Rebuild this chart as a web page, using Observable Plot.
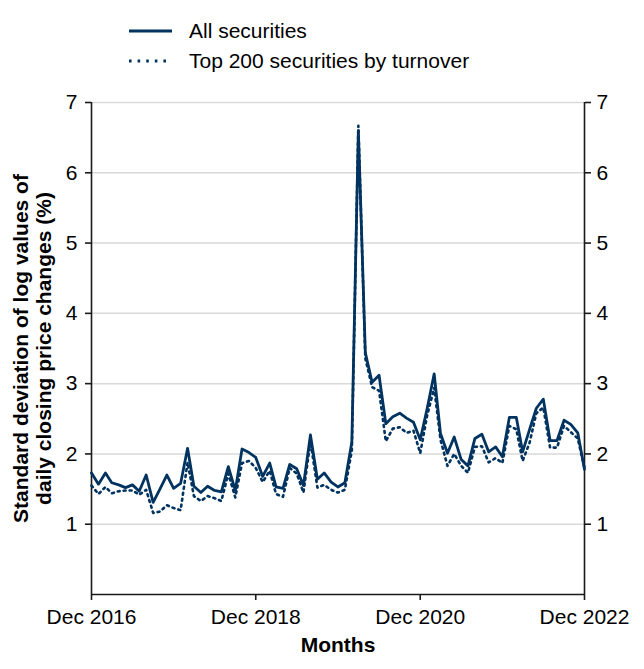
<!DOCTYPE html>
<html>
<head>
<meta charset="utf-8">
<script src="https://cdn.jsdelivr.net/npm/d3@7"></script>
<script src="https://cdn.jsdelivr.net/npm/@observablehq/plot@0.6"></script>
<style>
  html, body { margin: 0; padding: 0; background: #fff; }
  body { width: 644px; height: 669px; overflow: hidden; font-family: Arial, "Liberation Sans", sans-serif; }
  #legend svg, #chart svg { display: block; }
</style>
</head>
<body>
<div id="legend"></div>
<div id="chart"></div>
<script>
// ---- data ----
const months = d3.utcMonth.range(new Date(Date.UTC(2016, 11, 1)), new Date(Date.UTC(2023, 0, 1))); // Dec 2016 .. Dec 2022
const allSecurities = [
  1.73,1.57,1.73,1.59,1.56,1.52,1.56,1.47,1.70,1.31,1.50,1.70,
  1.51,1.58,2.08,1.54,1.45,1.54,1.48,1.46,1.82,1.48,2.07,2.02,
  1.95,1.68,1.87,1.53,1.51,1.85,1.79,1.55,2.27,1.64,1.73,1.60,
  1.53,1.59,2.17,6.60,3.44,3.02,3.12,2.43,2.53,2.58,2.51,2.45,
  2.20,2.65,3.14,2.29,2.01,2.24,1.92,1.83,2.22,2.28,2.03,2.10,
  1.96,2.52,2.52,2.03,2.35,2.65,2.78,2.19,2.19,2.48,2.42,2.30,
  1.78
];
const top200 = [
  1.55,1.43,1.53,1.44,1.47,1.48,1.48,1.42,1.49,1.16,1.18,1.27,
  1.23,1.20,1.88,1.40,1.33,1.40,1.37,1.33,1.72,1.38,1.87,1.90,
  1.80,1.60,1.76,1.43,1.39,1.80,1.72,1.45,2.18,1.52,1.56,1.49,
  1.45,1.49,2.05,6.67,3.36,2.95,2.90,2.18,2.36,2.38,2.30,2.33,
  2.01,2.55,2.94,2.20,1.83,2.00,1.83,1.73,2.10,2.11,1.88,1.94,
  1.87,2.40,2.35,1.90,2.16,2.58,2.66,2.09,2.09,2.40,2.31,2.22,
  1.80
];
const seriesNames = ["All securities", "Top 200 securities by turnover"];
const yTicks = [1, 2, 3, 4, 5, 6, 7];
const xTickLabels = ["Dec 2016", "Dec 2018", "Dec 2020", "Dec 2022"];
const yLabel = "Standard deviation of log values of\ndaily closing price changes (%)";
const xLabel = "Months";

// ---- build ----
const navy = "#00335f";
const axisColor = "#1a1a1a";
const FS = 21;
const parse = d3.utcParse("%b %Y");
const xTickDates = xTickLabels.map(parse);
const rows = months.map((m, i) => ({month: m, all: allSecurities[i], top: top200[i]}));
const x0 = months[0], x1 = months[months.length - 1];

// legend (SVG above the plot)
const lg = d3.select("#legend").append("svg").attr("width", 644).attr("height", 85);
const legendItems = [
  {name: seriesNames[0], y: 31, dash: null},
  {name: seriesNames[1], y: 61, dash: "2.6,6"}
];
legendItems.forEach(it => {
  lg.append("line").attr("x1", 129).attr("x2", 172).attr("y1", it.y).attr("y2", it.y)
    .attr("stroke", navy).attr("stroke-width", 2.8).attr("stroke-dasharray", it.dash);
  lg.append("text").attr("x", 189).attr("y", it.y).attr("dy", "0.35em")
    .attr("font-size", FS).attr("font-family", "Arial, 'Liberation Sans', sans-serif")
    .attr("fill", "#000").text(it.name);
});

const chart = Plot.plot({
  width: 644,
  height: 584,
  marginTop: 17,
  marginBottom: 75,
  marginLeft: 91,
  marginRight: 60,
  style: {fontFamily: "Arial, 'Liberation Sans', sans-serif", fontSize: FS + "px", color: "#000", background: "#fff", overflow: "visible"},
  x: {type: "utc", domain: [x0, x1]},
  y: {domain: [0, 7]},
  marks: [
    Plot.gridY(yTicks, {stroke: "#d9d9d9", strokeOpacity: 1, strokeWidth: 1.5}),
    Plot.ruleX([x0, x1], {y1: 0, y2: 7, stroke: axisColor, strokeWidth: 1.6}),
    Plot.ruleY([0], {stroke: axisColor, strokeWidth: 1.6}),
    Plot.axisY(yTicks, {anchor: "left", tickSize: 6, tickPadding: 8, label: null, tickFormat: d => String(d), color: axisColor, strokeWidth: 1.6, fontSize: FS, fill: "#000"}),
    Plot.axisY(yTicks, {anchor: "right", tickSize: 6, tickPadding: 6, label: null, tickFormat: d => String(d), color: axisColor, strokeWidth: 1.6, fontSize: FS, fill: "#000"}),
    Plot.axisX(xTickDates, {anchor: "bottom", tickSize: 6, tickPadding: 9, label: null, color: axisColor, strokeWidth: 1.6, fontSize: FS, fill: "#000",
      tickFormat: d => xTickLabels[xTickDates.findIndex(t => +t === +d)]}),
    Plot.line(rows, {x: "month", y: "top", stroke: navy, strokeWidth: 2.6, strokeDasharray: "2,4", strokeLinejoin: "round"}),
    Plot.line(rows, {x: "month", y: "all", stroke: navy, strokeWidth: 2.8, strokeLinejoin: "round"}),
    Plot.text([yLabel], {text: d => d, frameAnchor: "left", dx: -59, rotate: -90, fontWeight: "bold", fontSize: FS,
      lineHeight: 1.1, textAnchor: "middle", lineAnchor: "middle", fill: "#000"}),
    Plot.text([xLabel], {text: d => d, frameAnchor: "bottom", dy: 51, fontWeight: "bold", fontSize: FS,
      textAnchor: "middle", lineAnchor: "middle", fill: "#000"})
  ]
});
document.getElementById("chart").appendChild(chart);
</script>
</body>
</html>
